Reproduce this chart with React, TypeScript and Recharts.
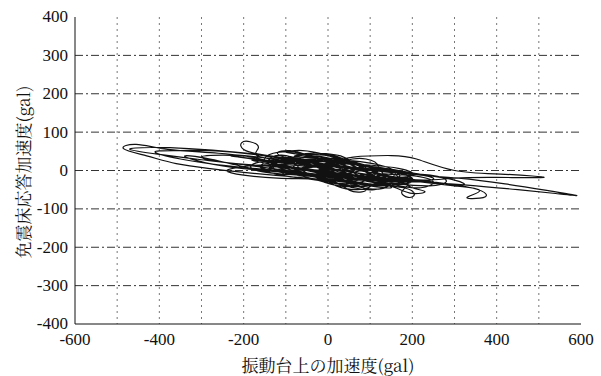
import { LineChart, Line, XAxis, YAxis, CartesianGrid } from 'recharts';

// 振動台上の加速度 (gal) - large excursions, in trace order
const groundAccelA = [
  0, 30, 60, 40, -10, -50, -70, -40, 10, 70, 110, 90, 30, -40, -100, -130, -100, -30, 50, 130,
  170, 140, 60, -30, -120, -170, -180, -120, -20, 80, 160, 200, 180, 100, 0,
  -120, -260, -380, -455, -485, -430, -360, -280, -200, -100, 0, 100, 180, 205, 190, 175, 190, 150, 50,
  -50, -150, -200, -205, -185, -165, -170, -110, -20, 60, 140, 220, 300, 360, 330, 360, 375, 340, 250,
  150, 50, -40, -120, -220, -330, -420, -470, -400, -300, -200, -100, 0, 100, 220, 330, 450, 540, 590,
  520, 420, 310, 200, 100, 0, -100, -180, -130, -50, 40, 130, 200, 170, 90, 0, -80, -120, -90, -50,
  0, 80, 150, 230, 300, 400, 512, 420, 300, 210, 150, 60, 0, -60, -110, -60, 20, 100, 150, 120, 60,
  -20, -90, -150, -200, -240, -200, -120, -40, 40, 90, 60, 30, -20, -80, -140, -100, -40, 20, 80, 140,
  200, 260, 280, 240, 160, 80, 0, -70, -130, -180, -250, -300, -250, -150, -50, 50, 150, 250, 320, 300,
  220, 140, 60, -20, -80, -40, 10, 50, 100, 180, 250, 200, 100, 0, -80, -150, -220, -280, -340, -290,
  -200, -100, 0, 80, 120, 80, 0, -50, -20, 20,
];

// 振動台上の加速度 (gal) - dense small cycles near the centre
const groundAccelB = [
  0, 40, 90, 120, 100, 50, -10, -60, -80, -40, 20, 70, 110, 140, 100, 40, 0, -50, -110, -140,
  -100, -30, 30, 80, 130, 160, 120, 60, 0, -60, -120, -160, -120, -60, 0, 60, 110, 150, 130, 80,
  20, -40, -90, -70, -20, 30, 60, 90, 120, 170, 220, 250, 210, 150, 100, 50, 0, -40, -80, -60,
  -10, 40, 90, 130, 100, 50, 10, -20, 10, 60, 100, 70, 20, -20, -70, -110, -150, -130, -80, -30,
  10, 50, 80, 120, 170, 200, 230, 200, 160, 110, 60, 20, -30, -80, -50, 0, 40, 20, -20, -60,
  -100, -140, -100, -50, 0, 50, 100, 150, 190, 150, 100, 50, 0, -30, -10, 30, 70, 110, 90, 50,
  10, -20,
];

// 振動台上の加速度 (gal) - tail of the record
const groundAccelC = [
  0, -60, -130, -250, -360, -410, -350, -260, -170, -80, 0, 70, 120, 90, 40, -20, -70, -40, 10, 60,
  100, 140, 180, 140, 80, 20, -30, -90, -130, -90, -30, 30, 80, 60, 0, -50, -100, -170, -230, -170,
  -100, -40, 20, 80, 130, 170, 130, 70, 10, -50, -100, -60, -10, 40, 90, 150, 200, 160, 100, 40,
  -10, -60, -110, -160, -120, -60, 0, 60, 110, 70, 20, -20, 0, 50, 90, 60, 10, -30, 0,
];

// 免震床応答加速度 (gal) - matches groundAccelA
const floorAccelA = [
  0, -10, -5, 8, 12, 10, 0, -8, -12, -15, -8, 5, 10, 15, 18, 8, -5, -10, -18, -25,
  -15, 0, 8, 20, 25, 20, 5, -8, -15, -25, -35, -28, -10, 0, 15,
  30, 45, 55, 68, 57, 38, 18, 5, -5, -15, -25, -35, -45, -62, -70, -55, -35, -15, 5,
  25, 40, 55, 72, 75, 60, 40, 25, 10, -5, -20, -30, -40, -52, -70, -72, -62, -45, -30,
  -15, 5, 20, 35, 48, 57, 60, 55, 42, 28, 15, 0, -12, -22, -30, -38, -50, -60, -65,
  -52, -35, -20, -10, 2, 12, 20, 28, 15, 0, -12, -20, -12, 5, 15, 22, 30, 45, 52, 40,
  20, 0, -18, -25, -20, -18, -18, -10, 0, 30, 39, 35, 20, 5, -10, -20, -28, -40, -45, -28, -12,
  0, 10, 15, 10, 0, -12, -20, -22, -30, -50, -55, -38, -20, -5, 10, 25, 30, 25, 12, 0,
  -8, -15, -30, -40, -35, -25, -10, 5, 20, 35, 40, 35, 22, 12, 2, -10, -22, -30, -38, -25,
  -10, 5, 15, 25, 35, 45, 40, 25, 10, -5, -20, -30, -25, -15, -5, 0, 15, 30, 38, 20,
  5, -5, -15, -20, -10, 5, 10, 5, -5, -8,
];

// 免震床応答加速度 (gal) - matches groundAccelB
const floorAccelB = [
  0, 25, 30, 10, -20, -35, -25, 0, 30, 42, 35, 15, -15, -40, -48, -30, -5, 20, 40, 25,
  5, -15, -35, -42, -30, -5, 15, 25, 30, 35, 30, 10, -10, -20, -30, -45, -50, -35, -15, 0,
  10, 15, 20, 40, 45, 38, 20, 0, -25, -40, -45, -30, -15, -10, -5, 10, 25, 30, 15, -5,
  -20, -25, -20, -10, 10, 20, 15, 0, -15, -30, -40, -50, -40, -20, -10, 5, 25, 45, 48, 35,
  20, 0, -15, -20, -28, -45, -55, -60, -45, -30, -20, -8, 10, 25, 35, 28, 15, 0, -10, -15,
  -5, 5, 20, 25, 15, 5, -5, -15, -25, -35, -30, -15, 0, 15, 30, 30, 20, 5, -10, -15,
  -10, 5,
];

// 免震床応答加速度 (gal) - matches groundAccelC
const floorAccelC = [
  0, 20, 35, 50, 52, 48, 30, 15, 5, -5, -18, -30, -38, -25, -5, 15, 28, 38, 30, 12,
  -10, -25, -32, -40, -35, -20, -5, 8, 18, 30, 22, 5, -12, -28, -22, -8, 10, 28, 38, 30,
  22, 12, -2, -18, -28, -20, 0, 18, 30, 40, 48, 52, 42, 25, 5, -15, -20, -30, -38, -42,
  -30, -15, -5, 8, 15, 12, 5, -5, -15, -25, -15, 0, 12, 18, 10, -5, -10, 0, 0,
];

const xTicks = [-600, -400, -200, 0, 200, 400, 600];
const yTicks = [-400, -300, -200, -100, 0, 100, 200, 300, 400];
const xGridValues = [-500, -400, -300, -200, -100, 0, 100, 200, 300, 400, 500];
const yGridValues = [-300, -200, -100, 0, 100, 200, 300];

const groundAccel = [...groundAccelA, ...groundAccelB, ...groundAccelC];
const floorAccel = [...floorAccelA, ...floorAccelB, ...floorAccelC];
const data = groundAccel.map((x, i) => ({ x, y: floorAccel[i] }));

const JP_FONT = "'Noto Serif CJK JP', 'Liberation Serif', serif";

// serif tick text, anchored the way recharts places it
const SerifTick = (props: any) => {
  const { x, y, payload, textAnchor, verticalAnchor } = props;
  const dy = verticalAnchor === 'start' ? '0.71em' : '0.32em';
  return (
    <text
      x={x}
      y={y}
      dy={dy}
      textAnchor={textAnchor}
      fill="#111"
      fontSize={17}
      fontFamily="Liberation Serif"
    >
      {payload.value}
    </text>
  );
};

export default function App() {
  return (
    <div
      style={{
        position: 'absolute',
        left: 0,
        top: 0,
        width: 601,
        height: 376,
        background: '#fff',
      }}
    >
      <LineChart width={601} height={376} data={data} margin={{ top: 17, right: 20, bottom: 0, left: 0 }}>
        <CartesianGrid
          horizontal={false}
          verticalValues={xGridValues}
          stroke="#777"
          strokeDasharray="2 4"
        />
        <CartesianGrid
          vertical={false}
          horizontalValues={yGridValues}
          stroke="#333"
          strokeDasharray="8 3 2 3"
        />
        <XAxis
          dataKey="x"
          type="number"
          domain={[-600, 600]}
          ticks={xTicks}
          tickSize={0}
          tickMargin={9}
          height={52}
          stroke="#111"
          tick={<SerifTick />}
          allowDataOverflow
        />
        <XAxis xAxisId="top" orientation="top" type="number" domain={[-600, 600]} tick={false} height={0} stroke="#111" />
        <YAxis
          type="number"
          domain={[-400, 400]}
          ticks={yTicks}
          tickSize={0}
          tickMargin={7}
          width={75}
          stroke="#111"
          tick={<SerifTick />}
          allowDataOverflow
        />
        <YAxis yAxisId="right" orientation="right" type="number" domain={[-400, 400]} tick={false} width={0} stroke="#111" />
        <Line
          dataKey="y"
          type="natural"
          stroke="#111"
          strokeWidth={1.2}
          dot={false}
          isAnimationActive={false}
        />
      </LineChart>
      <div
        style={{
          position: 'absolute',
          left: 328,
          top: 364,
          transform: 'translate(-50%, -50%)',
          fontFamily: JP_FONT,
          fontSize: 17,
          whiteSpace: 'nowrap',
          color: '#111',
        }}
      >
        振動台上の加速度(gal)
      </div>
      <div
        style={{
          position: 'absolute',
          left: 22,
          top: 172,
          transform: 'translate(-50%, -50%) rotate(-90deg)',
          fontFamily: JP_FONT,
          fontSize: 17,
          whiteSpace: 'nowrap',
          color: '#111',
        }}
      >
        免震床応答加速度(gal)
      </div>
    </div>
  );
}
